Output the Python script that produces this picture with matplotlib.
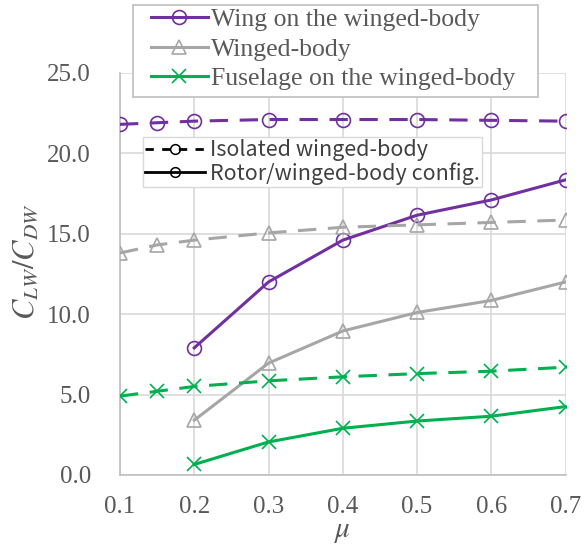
import matplotlib.pyplot as plt
from matplotlib.lines import Line2D
from matplotlib.patches import Rectangle

plt.rcParams["mathtext.fontset"] = "stix"

# advance ratio
mu_iso = [0.1, 0.15, 0.2, 0.3, 0.4, 0.5, 0.6, 0.7]
mu_rot = [0.2, 0.3, 0.4, 0.5, 0.6, 0.7]

# lift-to-drag, isolated winged-body
wing_iso = [21.8, 21.9, 22.0, 22.1, 22.1, 22.1, 22.05, 22.0]
body_iso = [13.8, 14.3, 14.6, 15.05, 15.4, 15.55, 15.7, 15.85]
fus_iso = [4.9, 5.2, 5.5, 5.85, 6.1, 6.3, 6.45, 6.7]

# lift-to-drag, rotor/winged-body configuration
wing_rot = [7.9, 12.0, 14.6, 16.15, 17.1, 18.35]
body_rot = [3.4, 6.95, 8.95, 10.1, 10.85, 12.0]
fus_rot = [0.65, 2.05, 2.9, 3.35, 3.65, 4.25]

purple = "#7030A0"
gray = "#A6A6A6"
green = "#00B050"
txt = "#595959"

W, H = 588, 544
fig, ax = plt.subplots(figsize=(W / 100, H / 100), dpi=100)
fig.subplots_adjust(left=0.204, right=0.962, top=0.866, bottom=0.127)

lw = 2.2
ms = 10
dash = (6, 3.8)
styles = dict(mfc="none", mew=1.2, zorder=3)
ax.plot(mu_iso, wing_iso, "--", color=purple, lw=lw, dashes=dash, marker="o", ms=ms, mec=purple, **styles)
ax.plot(mu_rot, wing_rot, "-", color=purple, lw=lw, marker="o", ms=ms, mec=purple, **styles)
ax.plot(mu_iso, body_iso, "--", color=gray, lw=lw, dashes=dash, marker="^", ms=ms, mec=gray, **styles)
ax.plot(mu_rot, body_rot, "-", color=gray, lw=lw, marker="^", ms=ms, mec=gray, **styles)
ax.plot(mu_iso, fus_iso, "--", color=green, lw=lw, dashes=dash, marker="x", ms=ms, mec=green, **styles)
ax.plot(mu_rot, fus_rot, "-", color=green, lw=lw, marker="x", ms=ms, mec=green, **styles)

ax.set_xlim(0.1, 0.7)
ax.set_ylim(0, 25)
ax.set_xticks([0.1, 0.2, 0.3, 0.4, 0.5, 0.6, 0.7])
ax.set_yticks([0, 5, 10, 15, 20, 25])
ax.set_yticklabels([f"{v:.1f}" for v in [0, 5, 10, 15, 20, 25]])
ax.tick_params(length=0, labelsize=18, labelcolor=txt)
ax.tick_params(axis="x", pad=15)
ax.tick_params(axis="y", pad=21)
for lab in ax.get_xticklabels() + ax.get_yticklabels():
    lab.set_fontfamily("Liberation Serif")
ax.grid(color="#D9D9D9", lw=1.2)
for s in ["top", "right"]:
    ax.spines[s].set_visible(False)
for s in ["left", "bottom"]:
    ax.spines[s].set_color("#BFBFBF")
    ax.spines[s].set_linewidth(1.2)

ax.set_xlabel(r"$\mu$", fontsize=21, color=txt)
ax.xaxis.set_label_coords(0.5, -0.105)
ax.set_ylabel(r"$C_{LW}/C_{DW}$", fontsize=22, color=txt)
ax.yaxis.set_label_coords(-0.18, 0.53)

# component legend, frame drawn separately so it can be wider than its rows
box = Rectangle((133 / W, 1 - 97 / H), 405 / W, 92 / H, transform=fig.transFigure,
                facecolor="white", edgecolor="#BFBFBF", lw=1.2, zorder=4)
fig.patches.append(box)
h1 = [Line2D([], [], color=purple, lw=lw, marker="o", ms=ms, mfc="none", mec=purple, mew=1.2),
      Line2D([], [], color=gray, lw=lw, marker="^", ms=ms, mfc="none", mec=gray, mew=1.2),
      Line2D([], [], color=green, lw=lw, marker="x", ms=ms, mec=green, mew=1.2)]
leg1 = fig.legend(h1, ["Wing on the winged-body", "Winged-body", "Fuselage on the winged-body"],
                  loc="upper left", bbox_to_anchor=(151 / W, 1 - 8 / H),
                  prop={"family": "Liberation Serif", "size": 18.5}, labelcolor=txt,
                  frameon=False, handlelength=2.2, handletextpad=0.15, borderpad=0,
                  labelspacing=0.26, borderaxespad=0)
leg1.set_zorder(5)

# configuration legend
h2 = [Line2D([], [], color="black", lw=2.0, ls="--", dashes=(3, 3), marker="o", ms=7,
             mfc="none", mec="black", mew=1.1),
      Line2D([], [], color="black", lw=2.0, marker="o", ms=7, mfc="none", mec="black", mew=1.1)]
leg2 = ax.legend(h2, ["Isolated winged-body", "Rotor/winged-body config."],
                 loc="upper left", bbox_to_anchor=(143 / W, 1 - 137 / H),
                 bbox_transform=fig.transFigure,
                 prop={"family": "Noto Sans CJK JP", "size": 15.5}, labelcolor="#404040",
                 fancybox=False, framealpha=1, edgecolor="#D9D9D9",
                 handlelength=2.8, handletextpad=0.2, borderpad=0.1, labelspacing=0.05,
                 borderaxespad=0)
leg2.set_zorder(5)

fig.savefig("out.png", dpi=100)
